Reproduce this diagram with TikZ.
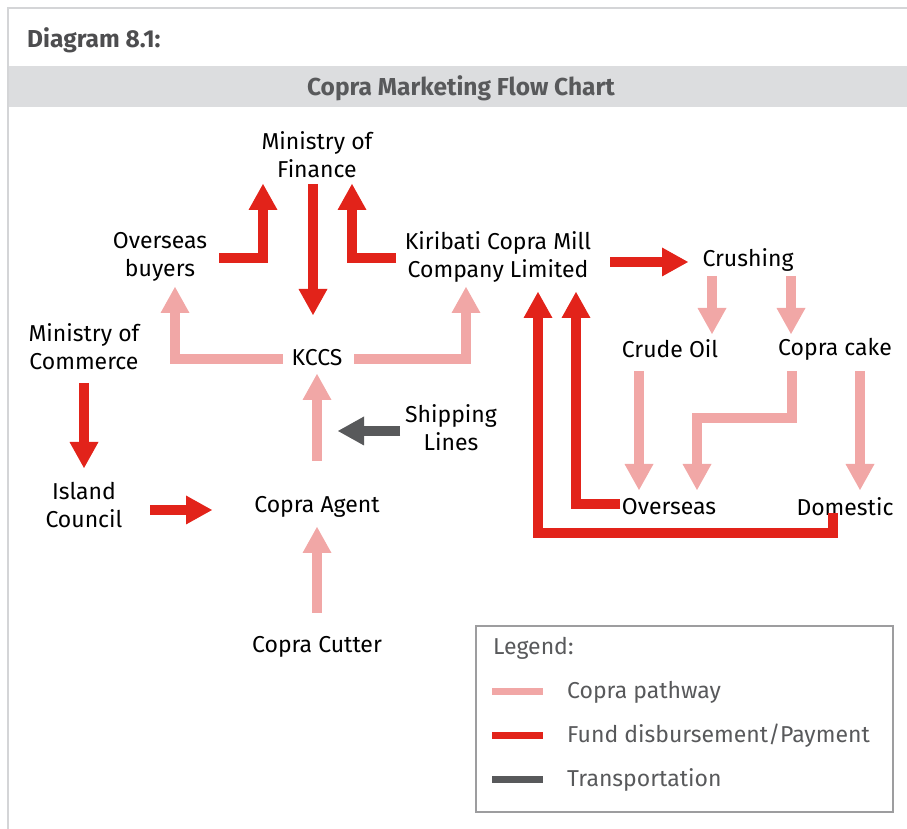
\documentclass[tikz,border=0pt]{standalone}
\usepackage{fontspec}
\setmainfont{Fira Sans}
\usetikzlibrary{arrows.meta}

\definecolor{fundred}{HTML}{E2231A}
\definecolor{coprapink}{HTML}{F1A7A6}
\definecolor{shipgray}{HTML}{58595B}
\definecolor{bandgray}{HTML}{DCDDDF}
\definecolor{framegray}{HTML}{D4D5D7}
\definecolor{boxgray}{HTML}{9D9D9F}
\definecolor{headgray}{HTML}{4D4D4F}

\begin{document}
\begin{tikzpicture}[
    x=1pt,
    y=1pt,
    font=\fontsize{23}{28}\selectfont,
    flecha/.style={line width=10pt,line join=miter,
        -{Triangle[width=29pt,length=26pt,line width=0pt]}},
    pago/.style={flecha,fundred},
    copra/.style={flecha,coprapink},
    transporte/.style={flecha,shipgray},
    caja/.style={align=center,text=black,inner sep=0pt},
    leyenda/.style={anchor=west,text=shipgray,inner sep=0pt}
]
    \useasboundingbox (0,0) rectangle (907,829);

    % Marco y cabecera
    \draw[framegray,line width=2.5pt] (8,0) -- (8,821) -- (907,821);
    \path[fill=bandgray] (9,722) rectangle (907,763);
    \node[anchor=west,font=\fontsize{24.5}{28}\selectfont\bfseries,text=headgray,inner sep=0pt]
        (diag) at (27,789) {Diagram 8.1:};
    \node[font=\fontsize{24.5}{28}\selectfont\bfseries,text=shipgray,inner sep=0pt]
        (titulo) at (461,741) {Copra Marketing Flow Chart};

    % Nodos
    \node[caja] (mof) at (317,674) {Ministry of\\Finance};
    \node[caja] (obuy) at (160,572) {Overseas\\buyers};
    \node[caja] (kcmc) at (498,572) {Kiribati Copra Mill\\Company Limited};
    \node[caja] (crush) at (748,569) {Crushing};
    \node[caja] (moc) at (84,482) {Ministry of\\Commerce};
    \node[caja] (kccs) at (317,471) {KCCS};
    \node[caja] (crude) at (670,480) {Crude Oil};
    \node[caja] (cake) at (835,480) {Copra cake};
    \node[caja] (ship) at (451,401) {Shipping\\Lines};
    \node[caja] (island) at (84,324) {Island\\Council};
    \node[caja] (agent) at (317,322) {Copra Agent};
    \node[caja] (overseas) at (669,322) {Overseas};
    \node[caja] (domestic) at (845,322) {Domestic};
    \node[caja] (cutter) at (317,182) {Copra Cutter};

    % Pagos
    \draw[pago] ([shift={(59,-1)}]obuy.center) -| ([shift={(-54,-29)}]mof.center);
    \draw[pago] ([shift={(-4,-29)}]mof.center) -- ([shift={(-4,43)}]kccs.center);
    \draw[pago] ([shift={(-102,-1)}]kcmc.center) -| ([shift={(35,-29)}]mof.center);
    \draw[pago] ([shift={(112,-5)}]kcmc.center) -- ([shift={(-60,-2)}]crush.center);
    \draw[pago] ([shift={(0,-36)}]moc.center) -- ([shift={(0,37)}]island.center);
    \draw[pago] ([shift={(66,-5)}]island.center) -- ([shift={(-105,-3)}]agent.center);
    \draw[pago] ([shift={(-49,3)}]overseas.center) -| ([shift={(78,-35)}]kcmc.center);
    \draw[pago] ([shift={(-12,-6)}]domestic.center) -- ++(0,-20)
        -| ([shift={(40,-35)}]kcmc.center);

    % Ruta de la copra
    \draw[copra] ([shift={(-34,-1)}]kccs.center) -| ([shift={(15,-30)}]obuy.center);
    \draw[copra] ([shift={(37,-1)}]kccs.center) -| ([shift={(-32,-30)}]kcmc.center);
    \draw[copra] ([shift={(0,46)}]agent.center) -- ([shift={(0,-16)}]kccs.center);
    \draw[copra] ([shift={(0,34)}]cutter.center) -- ([shift={(0,-20)}]agent.center);
    \draw[copra] ([shift={(-36,-16)}]crush.center) -- ([shift={(42,15)}]crude.center);
    \draw[copra] ([shift={(43,-16)}]crush.center) -- ([shift={(-44,15)}]cake.center);
    \draw[copra] ([shift={(-31,-22)}]crude.center) -- ([shift={(-30,17)}]overseas.center);
    \draw[copra] ([shift={(-43,-22)}]cake.center) -- ++(0,-47)
        -| ([shift={(28,17)}]overseas.center);
    \draw[copra] ([shift={(25,-22)}]cake.center) -- ([shift={(15,17)}]domestic.center);

    % Transporte
    \draw[transporte] ([shift={(-51,-3)}]ship.center) -- ([shift={(21,76)}]agent.center);

    % Leyenda
    \draw[boxgray,line width=2.5pt] (476,17) rectangle (893,203);
    \node[leyenda] (leg) at (493,181) {Legend:};
    \node[leyenda] (lcopra) at (567,137) {Copra pathway};
    \node[leyenda] (lpago) at (567,93) {Fund disbursement/Payment};
    \node[leyenda] (ltrans) at (567,49) {Transportation};
    \draw[coprapink,line width=7pt] (492,137) -- (543,137);
    \draw[fundred,line width=7pt] (492,93) -- (543,93);
    \draw[shipgray,line width=7pt] (492,49) -- (543,49);
\end{tikzpicture}
\end{document}
